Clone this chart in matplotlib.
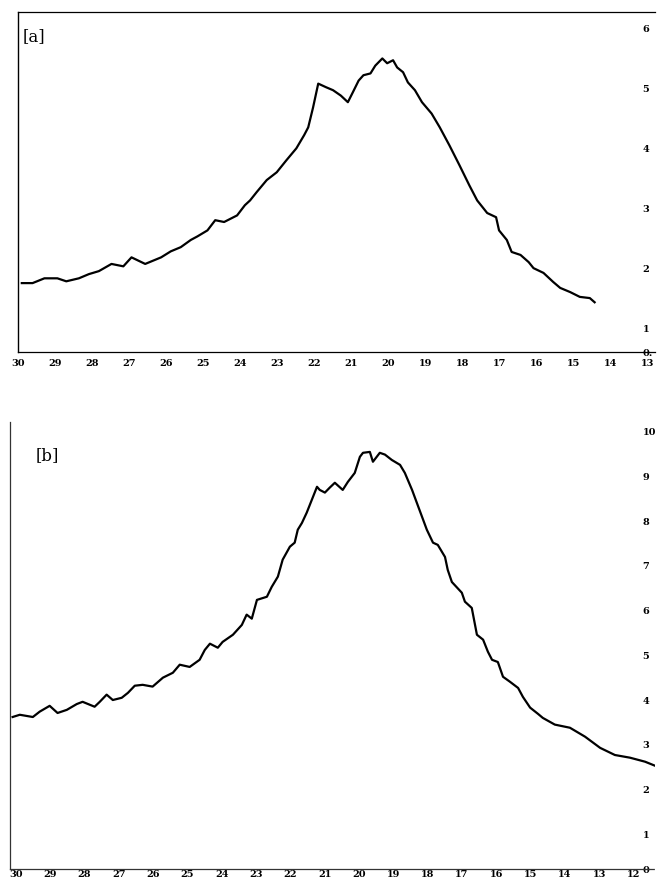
import matplotlib
matplotlib.use("Agg")
from matplotlib import pyplot as plt

# ---------------------------- data --------------------------------------

# panel [a]
a_x = [29.89, 29.60, 29.28, 28.93, 28.69, 28.35, 28.08, 27.81, 27.47, 27.15,
       26.93, 26.56, 26.13, 25.87, 25.60, 25.33, 25.15, 24.88, 24.67, 24.43,
       24.08, 23.87, 23.73, 23.55, 23.28, 23.01, 22.75, 22.48, 22.27, 22.16,
       22.03, 21.89, 21.68, 21.49, 21.28, 21.09, 20.96, 20.80, 20.67, 20.48,
       20.35, 20.16, 20.03, 19.87, 19.76, 19.60, 19.47, 19.28, 19.09, 18.83,
       18.61, 18.35, 18.08, 17.81, 17.60, 17.33, 17.09, 17.01, 16.80, 16.67,
       16.43, 16.21, 16.08, 15.81, 15.55, 15.36, 15.09, 14.83, 14.56, 14.43]
a_y = [1.75, 1.75, 1.83, 1.83, 1.78, 1.83, 1.90, 1.95, 2.07, 2.03,
       2.18, 2.07, 2.18, 2.28, 2.35, 2.47, 2.53, 2.63, 2.80, 2.77,
       2.88, 3.05, 3.13, 3.27, 3.47, 3.60, 3.80, 4.00, 4.22, 4.35,
       4.68, 5.08, 5.02, 4.97, 4.88, 4.77, 4.93, 5.13, 5.22, 5.25,
       5.38, 5.50, 5.42, 5.47, 5.35, 5.27, 5.10, 4.97, 4.77, 4.58,
       4.35, 4.05, 3.72, 3.38, 3.13, 2.92, 2.85, 2.63, 2.47, 2.27,
       2.22, 2.10, 2.00, 1.92, 1.77, 1.67, 1.60, 1.52, 1.50, 1.43]
a_xticks = list(range(30, 12, -1))
a_yticks = [0.6, 1, 2, 3, 4, 5, 6]
a_ylabels = ["0.", "1", "2", "3", "4", "5", "6"]

# panel [b]
b_x = [30.09, 29.88, 29.50, 29.30, 29.01, 28.78, 28.51, 28.22, 28.05, 27.70,
       27.55, 27.35, 27.17, 26.91, 26.73, 26.53, 26.30, 26.01, 25.71, 25.42,
       25.22, 24.93, 24.64, 24.49, 24.34, 24.11, 23.97, 23.67, 23.41, 23.27,
       23.12, 22.97, 22.68, 22.54, 22.36, 22.22, 22.01, 21.87, 21.78, 21.66,
       21.52, 21.37, 21.22, 21.14, 20.99, 20.85, 20.70, 20.47, 20.32, 20.12,
       19.97, 19.88, 19.68, 19.59, 19.39, 19.24, 19.04, 18.80, 18.66, 18.45,
       18.31, 18.16, 18.02, 17.84, 17.70, 17.49, 17.41, 17.29, 17.00, 16.91,
       16.71, 16.56, 16.38, 16.24, 16.12, 15.95, 15.80, 15.60, 15.36, 15.22,
       15.01, 14.78, 14.64, 14.29, 13.85, 13.41, 12.97, 12.54, 12.10, 11.66,
       11.37]
b_y = [3.62, 3.67, 3.62, 3.74, 3.87, 3.71, 3.78, 3.91, 3.96, 3.85,
       3.96, 4.12, 4.00, 4.05, 4.16, 4.32, 4.34, 4.30, 4.50, 4.61,
       4.79, 4.74, 4.90, 5.12, 5.26, 5.17, 5.30, 5.46, 5.68, 5.91,
       5.82, 6.24, 6.31, 6.53, 6.76, 7.14, 7.43, 7.52, 7.81, 7.96,
       8.19, 8.48, 8.77, 8.70, 8.64, 8.75, 8.86, 8.70, 8.88, 9.08,
       9.44, 9.53, 9.55, 9.33, 9.53, 9.49, 9.37, 9.26, 9.08, 8.70,
       8.41, 8.10, 7.81, 7.52, 7.47, 7.20, 6.91, 6.64, 6.40, 6.20,
       6.06, 5.46, 5.35, 5.08, 4.90, 4.85, 4.52, 4.41, 4.27, 4.07,
       3.83, 3.69, 3.60, 3.45, 3.38, 3.18, 2.93, 2.77, 2.71, 2.62,
       2.53]
b_xticks = list(range(30, 11, -1))
b_yticks = [0.22, 1, 2, 3, 4, 5, 6, 7, 8, 9, 10]
b_ylabels = ["0", "1", "2", "3", "4", "5", "6", "7", "8", "9", "10"]

# ---------------------------- plot --------------------------------------

fig = plt.figure(figsize=(6.57, 8.8), dpi=100)
tick_font = {"family": "DejaVu Serif", "weight": "bold", "size": 7}

def style_axis(ax, xticks, yticks, ylabels, xpad):
    ax.set_xticks(xticks)
    ax.set_xticklabels([str(t) for t in xticks], fontdict=tick_font)
    ax.set_yticks(yticks)
    ax.set_yticklabels(ylabels, fontdict=tick_font)
    ax.tick_params(axis="x", length=0, pad=xpad)
    ax.tick_params(axis="y", length=0, left=False, right=False,
                   labelleft=False, labelright=True, pad=-9)
    ax.spines["right"].set_visible(False)

# panel a
ax1 = fig.add_axes([0.027, 0.600, 0.970, 0.386])
ax1.plot(a_x, a_y, color="black", linewidth=1.6)
ax1.set_xlim(30.0, 12.8)
ax1.set_ylim(0.6, 6.27)
style_axis(ax1, a_xticks, a_yticks, a_ylabels, 5)
ax1.spines["left"].set_linewidth(1.0)
for s in ["top", "bottom"]:
    ax1.spines[s].set_linestyle((0, (3, 1)))
    ax1.spines[s].set_linewidth(0.9)
ax1.text(0.008, 0.915, "[a]", transform=ax1.transAxes,
         family="DejaVu Serif", fontsize=12)

# panel b
ax2 = fig.add_axes([0.015, 0.0125, 0.982, 0.508])
ax2.plot(b_x, b_y, color="black", linewidth=1.6)
ax2.set_xlim(30.17, 11.37)
ax2.set_ylim(0.22, 10.22)
style_axis(ax2, b_xticks, b_yticks, b_ylabels, 1)
ax2.spines["top"].set_visible(False)
for s in ["left", "bottom"]:
    ax2.spines[s].set_linestyle((0, (2, 1)))
    ax2.spines[s].set_linewidth(0.9)
    ax2.spines[s].set_color("#333333")
ax2.text(0.04, 0.915, "[b]", transform=ax2.transAxes,
         family="DejaVu Serif", fontsize=12)

fig.savefig("out.png", dpi=100)
